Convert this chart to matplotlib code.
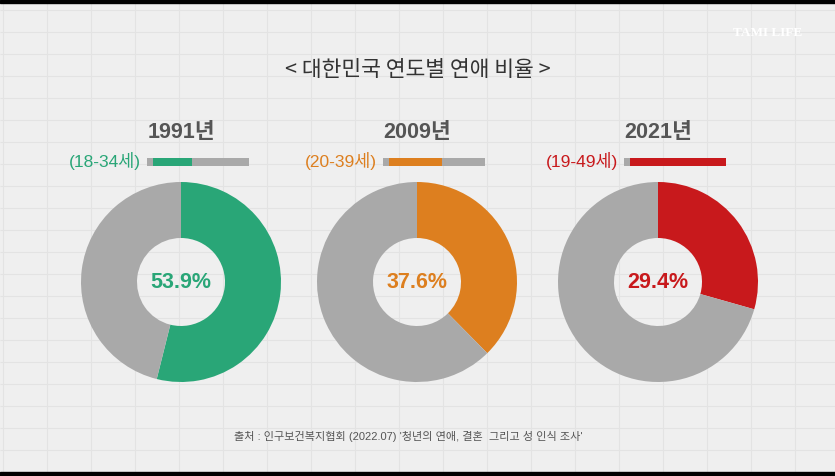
import numpy as np
import matplotlib.pyplot as plt

# 데이터
years = ['1991년', '2009년', '2021년']
age_groups = ['(18-34세)', '(20-39세)', '(19-49세)']
dating_rate = [53.9, 37.6, 29.4]
bar_fill = [0.44, 0.58, 0.94]   # 작은 막대 장식의 채움 비율
colors = ['#29a677', '#dd7f1f', '#c8191c']
gray = '#a9a9a9'

title = '< 대한민국 연도별 연애 비율 >'
source = "출처 : 인구보건복지협회 (2022.07) '청년의 연애, 결혼  그리고 성 인식 조사'"

# 폰트 (숫자는 좁은 글꼴, 한글은 Noto)
LAT = 'Liberation Sans'
KR = 'Noto Sans CJK KR'
plt.rcParams['font.family'] = [LAT, KR, 'DejaVu Sans']

W, H = 835, 476
fig = plt.figure(figsize=(W / 100, H / 100), dpi=100)
fig.patch.set_facecolor('#efefef')
ax = fig.add_axes([0, 0, 1, 1])
ax.set_facecolor('#efefef')

# 배경 격자
ax.vlines(np.arange(3, W, 44), 0, H, color='#e3e3e3', lw=0.8, zorder=0)
ax.hlines(np.arange(H - 10, 0, -22), 0, W, color='#e3e3e3', lw=0.8, zorder=0)

centers_x = [181, 417, 658]
cy = H - 282

for i in range(3):
    cx = centers_x[i]
    v = dating_rate[i]
    ax.pie([v, 100 - v], colors=[colors[i], gray], startangle=90, counterclock=False,
           center=(cx, cy), radius=100, wedgeprops=dict(width=56, linewidth=0),
           frame=True)
    ax.text(cx, cy - 1, f'{v}%', ha='center', va='center', fontsize=15.5,
            fontweight='bold', color=colors[i])

    # 연도
    ax.text(cx, H - 133, years[i], ha='center', va='center', fontsize=15.5,
            fontweight='bold', color='#555555')

    # 연령대 + 작은 막대
    left = cx - 34
    ax.barh(H - 162, 102, left=left, height=8, color=gray, zorder=3)
    ax.barh(H - 162, 102 * bar_fill[i] - 6 * (bar_fill[i] < 0.9), left=left + 6,
            height=8, color=colors[i], zorder=4)
    ax.text(left - 6, H - 161, age_groups[i], ha='right', va='center', fontsize=12.5,
            color=colors[i])

ax.text(W / 2 + 0.5, H - 70, title, ha='center', va='center', fontsize=15.5,
        fontweight='medium', color='#333333', family=[KR, 'DejaVu Sans'])
ax.text(408, H - 436, source, ha='center', va='center', fontsize=8,
        color='#555555')
ax.text(768, H - 33, 'TAMI LIFE', ha='center', va='center', fontsize=9.5,
        fontweight='bold', color='white', family='Liberation Serif')

# 위아래 검은 띠
ax.axhspan(0, 4, color='black', zorder=5)
ax.axhspan(H - 3, H, color='black', zorder=5)

ax.set_xlim(0, W)
ax.set_ylim(0, H)
ax.set_aspect('auto')
ax.axis('off')

fig.savefig('out.png', dpi=100, facecolor=fig.get_facecolor())
